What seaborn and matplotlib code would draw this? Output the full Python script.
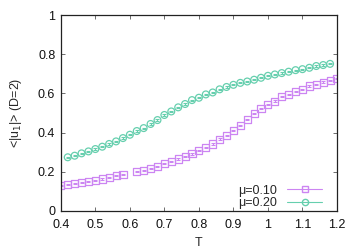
import numpy as np
import pandas as pd
import matplotlib
matplotlib.use("Agg")
import matplotlib.pyplot as plt
import seaborn as sns
from matplotlib.lines import Line2D

# mu = 0.10 (squares); T = 0.60 missing in the original
t_010 = [0.40, 0.42, 0.44, 0.46, 0.48, 0.50, 0.52, 0.54, 0.56, 0.58,
         0.62, 0.64, 0.66, 0.68, 0.70, 0.72, 0.74, 0.76, 0.78, 0.80,
         0.82, 0.84, 0.86, 0.88, 0.90, 0.92, 0.94, 0.96, 0.98, 1.00,
         1.02, 1.04, 1.06, 1.08, 1.10, 1.12, 1.14, 1.16, 1.18, 1.20]
u_010 = [0.129, 0.133, 0.138, 0.144, 0.151, 0.156, 0.163, 0.172, 0.179, 0.184,
         0.201, 0.208, 0.218, 0.228, 0.241, 0.252, 0.265, 0.277, 0.291, 0.308,
         0.323, 0.342, 0.367, 0.384, 0.410, 0.438, 0.465, 0.498, 0.524, 0.544,
         0.561, 0.583, 0.595, 0.612, 0.622, 0.638, 0.646, 0.658, 0.667, 0.677]

# mu = 0.20 (circles)
t_020 = [0.42, 0.44, 0.46, 0.48, 0.50, 0.52, 0.54, 0.56, 0.58, 0.60,
         0.62, 0.64, 0.66, 0.68, 0.70, 0.72, 0.74, 0.76, 0.78, 0.80,
         0.82, 0.84, 0.86, 0.88, 0.90, 0.92, 0.94, 0.96, 0.98, 1.00,
         1.02, 1.04, 1.06, 1.08, 1.10, 1.12, 1.14, 1.16, 1.18]
u_020 = [0.274, 0.282, 0.294, 0.304, 0.316, 0.328, 0.342, 0.355, 0.372, 0.389,
         0.408, 0.423, 0.444, 0.464, 0.490, 0.508, 0.529, 0.546, 0.566, 0.578,
         0.595, 0.605, 0.621, 0.633, 0.644, 0.654, 0.661, 0.670, 0.680, 0.690,
         0.697, 0.704, 0.711, 0.719, 0.724, 0.731, 0.740, 0.745, 0.751]

labels = ["\u03bc=0.10", "\u03bc=0.20"]
colors = ["#cc85f2", "#66cfae"]
markers = ["s", "o"]

df = pd.concat([
    pd.DataFrame({"T": t_010, "u": u_010, "mu": labels[0]}),
    pd.DataFrame({"T": t_020, "u": u_020, "mu": labels[1]}),
])

sns.set_theme(style="ticks")
plt.rcParams["font.family"] = ["Liberation Sans", "DejaVu Sans"]
plt.rcParams["font.size"] = 9

fig = plt.figure(figsize=(3.6, 2.52), dpi=100)
ax = fig.add_axes([0.169, 0.163, 0.767, 0.777])

for lab, col, mk in zip(labels, colors, markers):
    sub = df[df["mu"] == lab]
    ax.errorbar(sub["T"], sub["u"], yerr=0.003, fmt="none", ecolor=col,
                elinewidth=0.8, capsize=1.5, capthick=0.8)
    sns.scatterplot(data=sub, x="T", y="u", ax=ax, marker=mk,
                    facecolors="none", edgecolor=col, linewidth=0.9,
                    s=26 if mk == "s" else 24, legend=False)

ax.set_xlim(0.4, 1.2)
ax.set_ylim(0, 1)
ax.set_xticks(np.arange(0.4, 1.21, 0.1))
ax.set_xticklabels(["0.4", "0.5", "0.6", "0.7", "0.8", "0.9", "1", "1.1", "1.2"])
ax.set_yticks([0, 0.2, 0.4, 0.6, 0.8, 1])
ax.set_yticklabels(["0", "0.2", "0.4", "0.6", "0.8", "1"])
ax.tick_params(direction="in", top=True, right=True, length=3, width=0.6,
               labelsize=9, color="#555555", labelcolor="#111111")
ax.tick_params(axis="x", pad=6)
ax.tick_params(axis="y", pad=4)
for sp in ax.spines.values():
    sp.set_linewidth(0.9)
    sp.set_color("#222222")
ax.set_xlabel("T", fontsize=9, labelpad=4)
ax.set_ylabel("<|u$_1$|> (D=2)", fontsize=9, labelpad=10)

handles = [Line2D([0], [0], color=c, marker=m, markerfacecolor="none",
                  markeredgecolor=c, markersize=4.5, linewidth=0.8)
           for c, m in zip(colors, markers)]
ax.legend(handles, labels, loc="lower right", bbox_to_anchor=(0.955, -0.005),
          frameon=False, markerfirst=False,
          fontsize=9, handlelength=2.8, handletextpad=0.8, labelspacing=0.05,
          borderaxespad=0.0, borderpad=0.2, numpoints=1)

fig.savefig("out.png", dpi=100)
